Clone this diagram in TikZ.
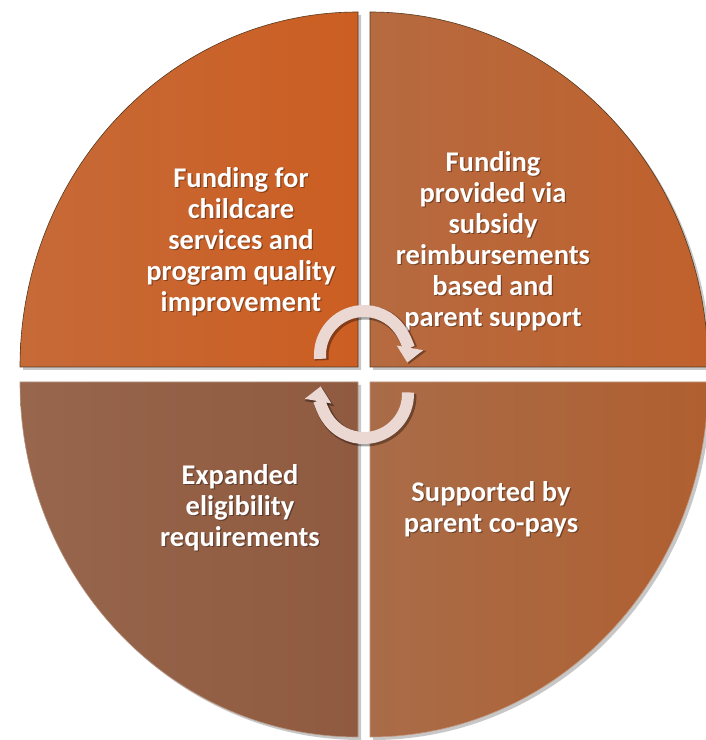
\documentclass[tikz,border=0pt]{standalone}
\usepackage{fontspec}
\setmainfont{Carlito}
\usetikzlibrary{arrows.meta}
\definecolor{qTLa}{HTML}{C66A38}
\definecolor{qTLb}{HTML}{CC5E22}
\definecolor{qTRa}{HTML}{B66A40}
\definecolor{qTRb}{HTML}{C0612C}
\definecolor{qBLa}{HTML}{97664C}
\definecolor{qBLb}{HTML}{8F5A40}
\definecolor{qBRa}{HTML}{A96C48}
\definecolor{qBRb}{HTML}{B05F30}
\definecolor{arrowpink}{HTML}{ECD8D3}
\tikzset{
  quad/.style={draw=black!55!brown, line width=0.6pt},
  qshadow/.style={fill=black, opacity=0.22},
  lbl/.style={text=white, align=center, font=\fontsize{28.5}{31}\selectfont\bfseries},
  lblsh/.style={text=black, opacity=0.35, align=center, font=\fontsize{28.5}{31}\selectfont\bfseries},
  cyc/.style={line width=12pt, draw=arrowpink, -{Triangle[width=26pt,length=15pt]}},
  cycsh/.style={line width=14pt, draw=black, opacity=0.35, -{Triangle[width=29pt,length=16pt]}}
}
\begin{document}
\begin{tikzpicture}[x=1pt,y=1pt]
\useasboundingbox (0,0) rectangle (706,740);
\fill[white] (0,0) rectangle (706,740);
% shadows
\fill[qshadow] (361,370) -- ++(0,355) arc[start angle=90,end angle=180,x radius=338,y radius=355] -- cycle;
\fill[qshadow] (373,370) -- ++(338,0) arc[start angle=0,end angle=90,x radius=338,y radius=355] -- cycle;
\fill[qshadow] (361,355) -- ++(-338,0) arc[start angle=180,end angle=270,x radius=338,y radius=355] -- cycle;
\fill[qshadow] (373,355) -- ++(0,-355) arc[start angle=270,end angle=360,x radius=338,y radius=355] -- cycle;
% quadrants
\path[quad, left color=qTLa, right color=qTLb] (358,373) coordinate (tl) -- ++(0,355) arc[start angle=90,end angle=180,x radius=338,y radius=355] -- cycle;
\path[quad, left color=qTRa, right color=qTRb] (370,373) coordinate (tr) -- ++(338,0) arc[start angle=0,end angle=90,x radius=338,y radius=355] -- cycle;
\path[quad, draw=qBLa!70!white, left color=qBLa, right color=qBLb] (358,358) coordinate (bl) -- ++(-338,0) arc[start angle=180,end angle=270,x radius=338,y radius=355] -- cycle;
\path[quad, draw=qBRa!70!white, left color=qBRa, right color=qBRb] (370,358) coordinate (br) -- ++(0,-355) arc[start angle=270,end angle=360,x radius=338,y radius=355] -- cycle;
% labels
\node[lblsh] (tlsh) at (242.2,496.8) {Funding for\\childcare\\services and\\program quality\\improvement};
\node[lbl] (tltext) at (241,498) {Funding for\\childcare\\services and\\program quality\\improvement};
\node[lblsh] (trsh) at (494.2,497.8) {Funding\\provided via\\subsidy\\reimbursements\\based and\\parent support};
\node[lbl] (trtext) at (493,499) {Funding\\provided via\\subsidy\\reimbursements\\based and\\parent support};
\node[lblsh] (blsh) at (241.2,230.8) {Expanded\\eligibility\\requirements};
\node[lbl] (bltext) at (240,232) {Expanded\\eligibility\\requirements};
\node[lblsh] (brsh) at (492.2,229.8) {Supported by\\parent co-pays};
\node[lbl] (brtext) at (491,231) {Supported by\\parent co-pays};
% cycle arrows
\coordinate (cu) at (364,385);
\coordinate (cl) at (364,346);
\draw[cycsh] ([shift={(185:44)}]cu) ++(1.5,-1.5) arc[start angle=185,end angle=-10,radius=44];
\draw[cyc] ([shift={(185:44)}]cu) arc[start angle=185,end angle=-10,radius=44];
\draw[cycsh] ([shift={(2:44)}]cl) ++(1.5,-1.5) arc[start angle=2,end angle=-190,radius=44];
\draw[cyc] ([shift={(2:44)}]cl) arc[start angle=2,end angle=-190,radius=44];
\end{tikzpicture}
\end{document}
